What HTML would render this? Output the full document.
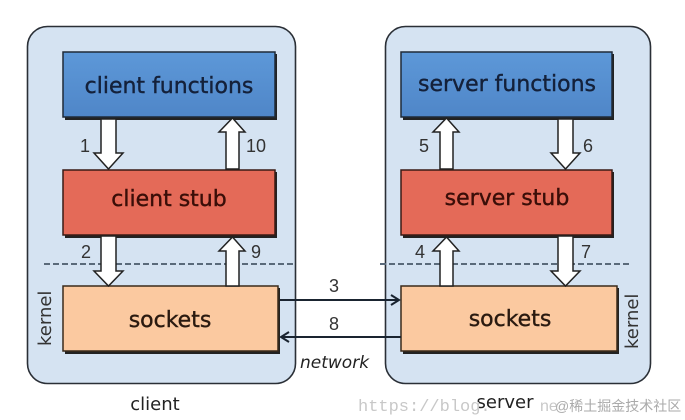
<!DOCTYPE html>
<html><head><meta charset="utf-8"><style>
html,body{margin:0;padding:0;background:#fff;}
svg{display:block;font-family:"DejaVu Sans","Liberation Sans",sans-serif;}
</style></head><body>
<svg width="685" height="420" viewBox="0 0 685 420">
<defs>
<linearGradient id="bl" x1="0" y1="0" x2="0" y2="1"><stop offset="0" stop-color="#5d98d8"/><stop offset="1" stop-color="#4f86c8"/></linearGradient>
</defs>
<rect x="27.5" y="26.5" width="268" height="357" rx="20" fill="#d5e3f2" stroke="#2a2f36" stroke-width="1.6"/>
<rect x="385.5" y="26.5" width="265" height="357" rx="20" fill="#d5e3f2" stroke="#2a2f36" stroke-width="1.6"/>
<line x1="44" y1="264" x2="295" y2="264" stroke="#5a6a7a" stroke-width="2" stroke-dasharray="6,3"/>
<line x1="380" y1="264" x2="630" y2="264" stroke="#5a6a7a" stroke-width="2" stroke-dasharray="6,3"/>
<rect x="65" y="54" width="212" height="66" fill="#222"/>
<rect x="63" y="52" width="212" height="65" fill="url(#bl)" stroke="#1f2a38" stroke-width="1.5"/>
<text x="169" y="93" font-size="22" text-anchor="middle" fill="#14213a" stroke="#14213a" stroke-width="0.4">client functions</text>
<rect x="65" y="172" width="212" height="66" fill="#222"/>
<rect x="63" y="170" width="212" height="65" fill="#e46a58" stroke="#3a1a14" stroke-width="1.5"/>
<text x="169" y="206" font-size="22" text-anchor="middle" fill="#3a0e08" stroke="#3a0e08" stroke-width="0.4">client stub</text>
<rect x="65" y="288" width="215" height="66" fill="#222"/>
<rect x="63" y="286" width="215" height="65" fill="#fbc9a0" stroke="#3a2a1a" stroke-width="1.5"/>
<text x="170" y="327" font-size="22" text-anchor="middle" fill="#2a1a10" stroke="#2a1a10" stroke-width="0.4">sockets</text>
<rect x="403" y="54" width="211" height="66" fill="#222"/>
<rect x="401" y="52" width="211" height="65" fill="url(#bl)" stroke="#1f2a38" stroke-width="1.5"/>
<text x="507" y="91" font-size="22" text-anchor="middle" fill="#14213a" stroke="#14213a" stroke-width="0.4">server functions</text>
<rect x="403" y="172" width="211" height="66" fill="#222"/>
<rect x="401" y="170" width="211" height="65" fill="#e46a58" stroke="#3a1a14" stroke-width="1.5"/>
<text x="507" y="205" font-size="22" text-anchor="middle" fill="#3a0e08" stroke="#3a0e08" stroke-width="0.4">server stub</text>
<rect x="403" y="288" width="216" height="66" fill="#222"/>
<rect x="401" y="286" width="216" height="65" fill="#fbc9a0" stroke="#3a2a1a" stroke-width="1.5"/>
<text x="510" y="326" font-size="22" text-anchor="middle" fill="#2a1a10" stroke="#2a1a10" stroke-width="0.4">sockets</text>
<g fill="#fff" stroke="#222" stroke-width="1.5">
<polygon points="101,119 116,119 116,153 123,153 108.5,169 94,153 101,153"/>
<polygon points="226,169 239,169 239,132 245,132 232.5,118 219,132 226,132"/>
<polygon points="101,236 116,236 116,271 123,271 108.5,286 94,271 101,271"/>
<polygon points="226,286 239,286 239,251 245,251 232.5,237 219,251 226,251"/>
<polygon points="440,169 453,169 453,132 459,132 446.5,118 433,132 440,132"/>
<polygon points="558,119 573,119 573,153 580,153 565.5,169 551,153 558,153"/>
<polygon points="440,286 453,286 453,251 459,251 446.5,237 433,251 440,251"/>
<polygon points="558,236 573,236 573,271 580,271 565.5,286 551,271 558,271"/>
</g>
<g font-size="18" fill="#333" font-family="Liberation Sans, sans-serif">
<text x="80" y="152">1</text>
<text x="246" y="152">10</text>
<text x="81" y="258">2</text>
<text x="251" y="258">9</text>
<text x="419" y="152">5</text>
<text x="583" y="152">6</text>
<text x="415" y="258">4</text>
<text x="581" y="258">7</text>
<text x="329" y="292">3</text>
<text x="329" y="330">8</text>
</g>
<line x1="280" y1="300" x2="398" y2="300" stroke="#1a2430" stroke-width="2"/>
<polyline points="391,295 399,300 391,305" fill="none" stroke="#1a2430" stroke-width="2"/>
<line x1="282" y1="337" x2="401" y2="337" stroke="#1a2430" stroke-width="2"/>
<polyline points="289,332 281,337 289,342" fill="none" stroke="#1a2430" stroke-width="2"/>
<text x="300" y="368" font-size="17" font-style="italic" fill="#222">network</text>
<text transform="translate(51,346) rotate(-90)" font-size="18" fill="#333">kernel</text>
<text transform="translate(638,349) rotate(-90)" font-size="18" fill="#333">kernel</text>
<text x="155" y="410" font-size="18" text-anchor="middle" fill="#222">client</text>
<text x="505" y="408" font-size="18" text-anchor="middle" fill="#222">server</text>
<text x="358" y="411" font-size="17" fill="#c8c8c8" font-family="Liberation Mono, monospace">https://blog.</text>
<text x="540" y="411" font-size="16" fill="#c8c8c8" font-family="Liberation Sans, sans-serif">ne</text>
<text x="555" y="411" font-size="14" fill="#aaaaaa" font-family="Liberation Sans, Noto Sans CJK SC, sans-serif">@稀土掘金技术社区</text>
</svg>
</body></html>
